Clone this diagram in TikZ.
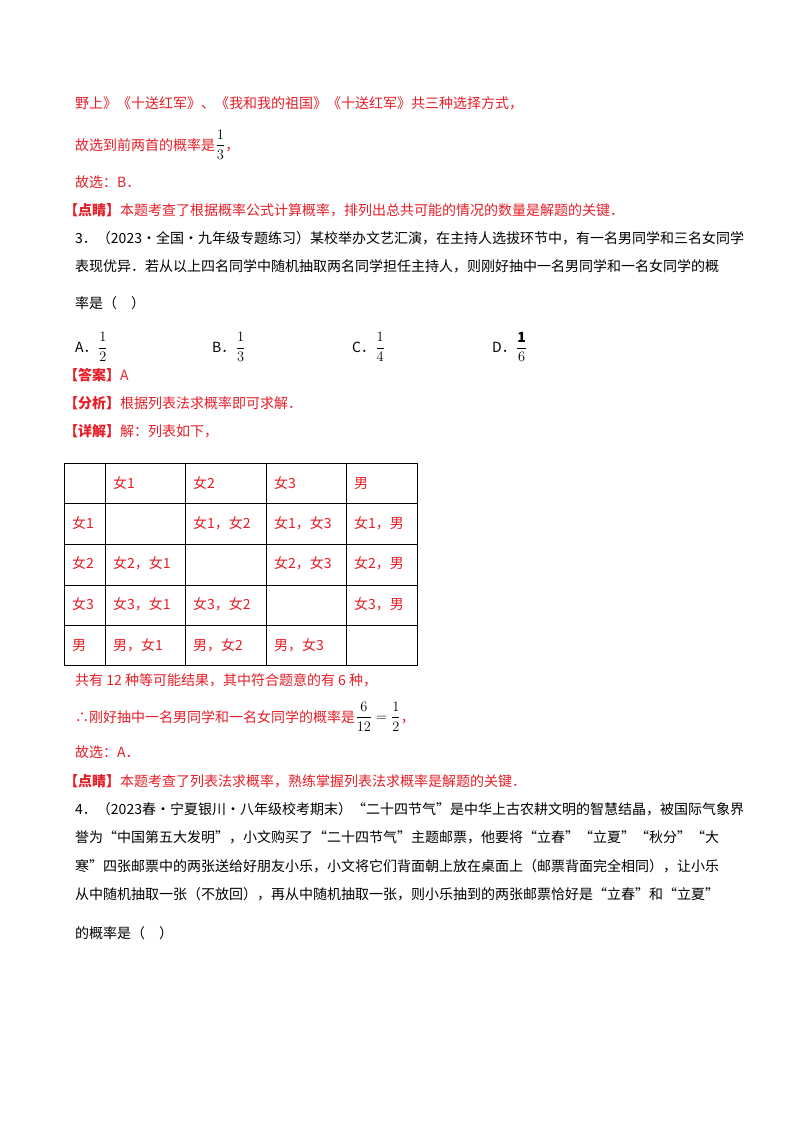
\documentclass[tikz,border=0pt]{standalone}
\usepackage{amsmath}
\usepackage{fontspec}
\setmainfont{Noto Sans CJK SC}
\definecolor{ans}{RGB}{230,30,40}
\begin{document}
\begin{tikzpicture}[x=1pt,y=-1pt,
  t/.style={anchor=base west,inner sep=0pt,font=\fontsize{14}{16}\selectfont},
  r/.style={t,text=ans},
  cell/.style={r}]
\useasboundingbox (0,0) rectangle (800,1132);
\fill[white] (0,0) rectangle (800,1132);
\node[r] (l1) at (75,108) {野上》《十送红军》、《我和我的祖国》《十送红军》共三种选择方式，};
\node[r] (l2) at (75,150) {故选到前两首的概率是};
\node[t,anchor=west] (f1) at (l2.east) {$\dfrac{1}{3}$};
\node[r,anchor=base west] (l2b) at (f1.east|-l2.base) {，};
\node[r] (l3) at (75,187) {故选：B．};
\node[r] (l4) at (64,215) {\textbf{【点睛】}本题考查了根据概率公式计算概率，排列出总共可能的情况的数量是解题的关键．};
\node[t] (q1) at (75,243) {3．（2023·全国·九年级专题练习）某校举办文艺汇演，在主持人选拔环节中，有一名男同学和三名女同学};
\node[t] (q2) at (75,271) {表现优异．若从以上四名同学中随机抽取两名同学担任主持人，则刚好抽中一名男同学和一名女同学的概};
\node[t] (q3) at (75,308) {率是（　）};
\node[t] (oa) at (75,352) {A．};
\node[t,anchor=west] (fa) at (oa.east) {$\dfrac{1}{2}$};
\node[t] (ob) at (212,352) {B．};
\node[t,anchor=west] (fb) at (ob.east) {$\dfrac{1}{3}$};
\node[t] (oc) at (352,352) {C．};
\node[t,anchor=west] (fc) at (oc.east) {$\dfrac{1}{4}$};
\node[t] (od) at (492,352) {D．};
\node[t,anchor=west] (fd) at (od.east) {$\dfrac{\mathbf{1}}{6}$};
\node[r] (a1) at (64,380) {\textbf{【答案】}A};
\node[r] (a2) at (64,408) {\textbf{【分析】}根据列表法求概率即可求解．};
\node[r] (a3) at (64,436) {\textbf{【详解】}解：列表如下，};
% table
\draw[line width=0.8pt] (64,463) rectangle (417,665);
\foreach \yy in {503,544,585,625} \draw[line width=0.8pt] (64,\yy) -- (417,\yy);
\foreach \xx in {105,185,266,346} \draw[line width=0.8pt] (\xx,463) -- (\xx,665);
\foreach \txt/\xx/\yy in {女1/113/488, 女2/193/488, 女3/274/488, 男/354/488,
  女1/72/528, 女1，女2/193/528, 女1，女3/274/528, 女1，男/354/528,
  女2/72/568, 女2，女1/113/568, 女2，女3/274/568, 女2，男/354/568,
  女3/72/609, 女3，女1/113/609, 女3，女2/193/609, 女3，男/354/609,
  男/72/650, 男，女1/113/650, 男，女2/193/650, 男，女3/274/650}
  \node[cell] at (\xx,\yy) {\txt};
\node[r] (b1) at (75,685) {共有 12 种等可能结果，其中符合题意的有 6 种，};
\node[r] (b2) at (75,722) {∴刚好抽中一名男同学和一名女同学的概率是};
\node[t,anchor=west] (fe) at (b2.east) {$\dfrac{6}{12}=\dfrac{1}{2}$};
\node[r,anchor=base west] (b2b) at (fe.east|-b2.base) {，};
\node[r] (b3) at (75,757) {故选：A．};
\node[r] (b4) at (64,786) {\textbf{【点睛】}本题考查了列表法求概率，熟练掌握列表法求概率是解题的关键．};
\node[t] (c1) at (75,814) {4．（2023春·宁夏银川·八年级校考期末）“二十四节气”是中华上古农耕文明的智慧结晶，被国际气象界};
\node[t] (c2) at (75,842) {誉为“中国第五大发明”，小文购买了“二十四节气”主题邮票，他要将“立春”“立夏”“秋分”“大};
\node[t] (c3) at (75,871) {寒”四张邮票中的两张送给好朋友小乐，小文将它们背面朝上放在桌面上（邮票背面完全相同），让小乐};
\node[t] (c4) at (75,899) {从中随机抽取一张（不放回），再从中随机抽取一张，则小乐抽到的两张邮票恰好是“立春”和“立夏”};
\node[t] (c5) at (75,938) {的概率是（　）};
\end{tikzpicture}
\end{document}
